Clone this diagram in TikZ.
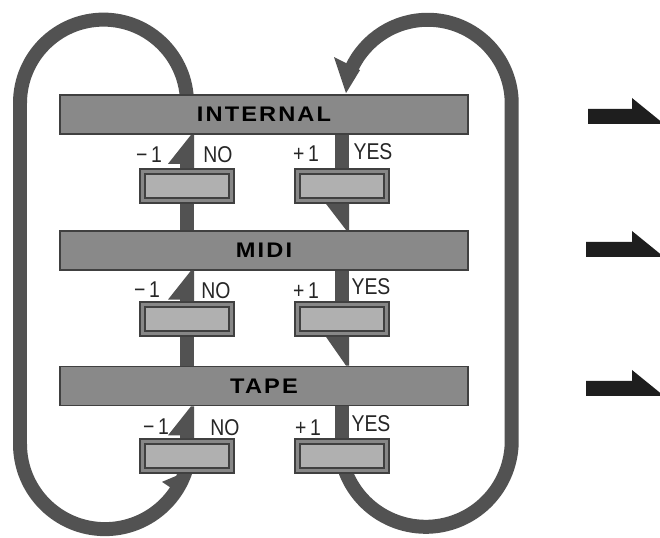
\documentclass[tikz,border=0pt]{standalone}
\usepackage{fontspec}
\setmainfont{Liberation Sans}
\usepackage{tikz}
\usetikzlibrary{positioning, calc, backgrounds}
\definecolor{barfill}{HTML}{898989}
\definecolor{edge}{HTML}{404040}
\definecolor{selfill}{HTML}{878787}
\definecolor{selpane}{HTML}{B0B0B0}
\definecolor{loopc}{HTML}{525252}
\definecolor{ptrc}{HTML}{1E1E1E}
\definecolor{txt}{HTML}{262626}
\tikzset{
  bar/.style={rectangle, draw=edge, line width=1pt, fill=barfill, inner sep=0pt,
              minimum width=8.16cm, minimum height=0.78cm, text=black,
              font=\fontsize{12}{14}\selectfont\bfseries\addfontfeatures{FakeStretch=1.12, LetterSpace=10}},
  sel/.style={rectangle, draw=edge, line width=1pt, fill=selfill, inner sep=0pt,
              minimum width=1.88cm, minimum height=0.68cm},
  selinner/.style={draw=edge, line width=0.8pt, fill=selpane},
  lbl/.style={inner sep=0pt, text=txt, font=\fontsize{13}{15}\selectfont\addfontfeatures{FakeStretch=0.85}},
  loopln/.style={draw=loopc, line width=0.28cm, line join=round},
  shaft/.style={draw=loopc, line width=0.28cm},
  barb/.style={fill=loopc},
  ptr/.style={fill=ptrc},
}
\begin{document}
\begin{tikzpicture}[x=0.02cm, y=0.02cm]
  \useasboundingbox (0,0) rectangle (660,538);
  \clip (0,0) rectangle (660,538);
  \node[bar] (internal) at (264,423.5) {INTERNAL};
  \node[bar, below=1.9cm of internal] (midi) {MIDI};
  \node[bar, below=1.9cm of midi] (tape) {TAPE};
  \node[sel] (intno) at (187,352) {};
  \node[sel] (intyes) at (342,352) {};
  \node[sel] (midino) at (187,219) {};
  \node[sel] (midiyes) at (342,219) {};
  \node[sel] (tapeno) at (187,82) {};
  \node[sel] (tapeyes) at (342,82) {};
  \foreach \b in {intno, intyes, midino, midiyes, tapeno, tapeyes}
    \draw[selinner] ([shift={(6,6)}]\b.south west) rectangle ([shift={(-6,-6)}]\b.north east);
  \node[lbl] (intm) at (149,383) {−\,1};
  \node[lbl] (intn) at (218,383) {NO};
  \node[lbl] (intp) at (306,384) {+\,1};
  \node[lbl] (inty) at (373,386) {YES};
  \node[lbl] (midim) at (147,248) {−\,1};
  \node[lbl] (midin) at (216,247) {NO};
  \node[lbl] (midip) at (306,247) {+\,1};
  \node[lbl] (midiy) at (371,251) {YES};
  \node[lbl] (tapem) at (156,111) {−\,1};
  \node[lbl] (tapen) at (225,110) {NO};
  \node[lbl] (tapep) at (308,110) {+\,1};
  \node[lbl] (tapey) at (371,114) {YES};
  \draw[shaft] (intno.south) -- (midi.north -| intno);
  \draw[shaft] (midino.south) -- (tape.north -| midino);
  \foreach \b/\r in {intno/internal, midino/midi, tapeno/tape}
    \fill[barb] ($(\b.north)+(7,0)$) -- ($(\r.south -| \b)+(7,0)$) -- ++(-3,0)
      -- ++(-23,-29) -- ++(12,0) -- ($(\b.north)+(-7,0)$) -- cycle;
  \draw[shaft] (internal.south -| intyes) -- (intyes.north);
  \draw[shaft] (midi.south -| midiyes) -- (midiyes.north);
  \draw[shaft] (tape.south -| tapeyes) -- (tapeyes.north);
  \foreach \b/\r in {intyes/midi, midiyes/tape}
    \fill[barb] ($(\b.south)+(7,0)$) -- ($(\r.north -| \b)+(7,0)$) -- ++(-3,0)
      -- ($(\b.south)+(-16,0)$) -- cycle;
  \begin{scope}[on background layer]
    \fill[white] (0,0) rectangle (660,538);
    \draw[loopln] (intno |- internal.north) ++(0,-9) arc[start angle=0, end angle=180, radius=83.5]
      -- ++(0,-341) arc[start angle=180, end angle=345, radius=85];
    \draw[loopln] (tapeyes.center) -- ++(4,-17) arc[start angle=202, end angle=360, radius=86]
      -- ++(0,337) arc[start angle=0, end angle=155, radius=84];
  \end{scope}
  \fill[barb] ($(tapeno.south)+(-6,0)$) -- ++(-19,-8) -- ++(12,-8) -- cycle;
  \fill[barb] ($(intyes |- internal.north)+(4,1)$) -- ++(-12,36) -- ++(26,-13) -- cycle;
  \foreach \y/\x in {414/588, 281/586, 142/586}
    \fill[ptr] (\x,\y) -- ++(0,15) -- (632,\y+15) -- ++(0,11) -- (664,\y) -- cycle;
\end{tikzpicture}
\end{document}
